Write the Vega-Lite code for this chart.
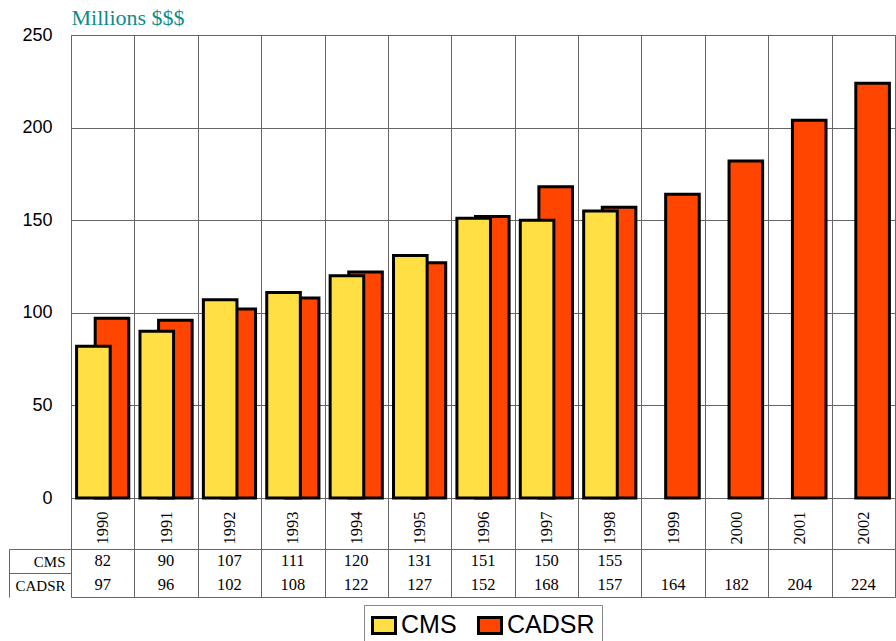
{
  "$schema": "https://vega.github.io/schema/vega-lite/v6.json",
  "autosize": {"type": "pad"},
  "padding": {"left": 8, "top": 5, "right": 0, "bottom": 0},
  "background": "white",
  "spacing": 51,
  "bounds": "flush",
  "config": {"view": {"stroke": "#666666"}},
  "resolve": {"scale": {"x": "independent", "y": "independent", "color": "shared"}, "legend": {"color": "shared"}},
  "data": {
    "values": [
      {"year": "1990", "series": "CMS", "value": 82},
      {"year": "1991", "series": "CMS", "value": 90},
      {"year": "1992", "series": "CMS", "value": 107},
      {"year": "1993", "series": "CMS", "value": 111},
      {"year": "1994", "series": "CMS", "value": 120},
      {"year": "1995", "series": "CMS", "value": 131},
      {"year": "1996", "series": "CMS", "value": 151},
      {"year": "1997", "series": "CMS", "value": 150},
      {"year": "1998", "series": "CMS", "value": 155},
      {"year": "1990", "series": "CADSR", "value": 97},
      {"year": "1991", "series": "CADSR", "value": 96},
      {"year": "1992", "series": "CADSR", "value": 102},
      {"year": "1993", "series": "CADSR", "value": 108},
      {"year": "1994", "series": "CADSR", "value": 122},
      {"year": "1995", "series": "CADSR", "value": 127},
      {"year": "1996", "series": "CADSR", "value": 152},
      {"year": "1997", "series": "CADSR", "value": 168},
      {"year": "1998", "series": "CADSR", "value": 157},
      {"year": "1999", "series": "CADSR", "value": 164},
      {"year": "2000", "series": "CADSR", "value": 182},
      {"year": "2001", "series": "CADSR", "value": 204},
      {"year": "2002", "series": "CADSR", "value": 224}
    ]
  },
  "vconcat": [
    {
      "width": 824,
      "height": 463,
      "encoding": {
        "x": {
          "field": "year", "type": "nominal",
          "scale": {"paddingInner": 0, "paddingOuter": 0},
          "axis": {
            "title": null, "orient": "bottom",
            "domain": true, "domainColor": "#666666",
            "ticks": true, "tickBand": "extent", "tickSize": 51, "tickColor": "#666666",
            "grid": true, "gridColor": "#666666", "gridOpacity": 1,
            "labelAngle": 270, "labelAlign": "right", "labelBaseline": "middle",
            "labelPadding": -38, "labelFont": "Liberation Serif", "labelFontSize": 16.5,
            "labelColor": "black", "labelOverlap": false
          }
        },
        "y": {
          "field": "value", "type": "quantitative",
          "scale": {"domain": [0, 250], "nice": false},
          "axis": {
            "title": "Millions $$$", "titleAngle": 0, "titleAlign": "left",
            "titleBaseline": "alphabetic", "titleX": 0, "titleY": -11,
            "titleFont": "Liberation Serif", "titleFontSize": 22, "titleFontWeight": "normal",
            "titleColor": "#0E8C88",
            "values": [0, 50, 100, 150, 200, 250],
            "domain": true, "domainColor": "#666666",
            "ticks": false, "labelPadding": 19,
            "labelFont": "Liberation Sans", "labelFontSize": 18, "labelColor": "black",
            "grid": true, "gridColor": "#666666", "gridOpacity": 1
          }
        },
        "color": {
          "field": "series", "type": "nominal",
          "scale": {"domain": ["CMS", "CADSR"], "range": ["#FFDF44", "#FF4500"]},
          "legend": {
            "title": null, "orient": "none", "legendX": 293, "legendY": 570,
            "direction": "horizontal",
            "symbolType": "M-1,-0.7H1V0.7H-1Z", "symbolSize": 529,
            "symbolStrokeColor": "black", "symbolStrokeWidth": 3, "symbolOpacity": 1,
            "labelFont": "Liberation Sans", "labelFontSize": 25, "labelColor": "black",
            "labelOffset": 4, "columnPadding": 15, "padding": 7,
            "strokeColor": "#888888"
          }
        }
      },
      "layer": [
        {
          "transform": [{"filter": "datum.series === 'CADSR'"}],
          "mark": {"type": "bar", "width": {"band": 0.53}, "xOffset": 9.3, "stroke": "black", "strokeWidth": 3, "opacity": 1}
        },
        {
          "transform": [{"filter": "datum.series === 'CMS'"}],
          "mark": {"type": "bar", "width": {"band": 0.53}, "xOffset": -9.3, "stroke": "black", "strokeWidth": 3, "opacity": 1}
        }
      ]
    },
    {
      "width": 824,
      "height": 48,
      "mark": {"type": "text", "font": "Liberation Serif", "fontSize": 16.5, "fill": "black"},
      "encoding": {
        "x": {
          "field": "year", "type": "nominal",
          "scale": {"paddingInner": 0, "paddingOuter": 0},
          "axis": {
            "title": null, "domain": false, "ticks": false, "labels": false,
            "grid": true, "gridColor": "#666666", "gridOpacity": 1, "tickBand": "extent"
          }
        },
        "y": {
          "field": "series", "type": "nominal",
          "scale": {"domain": ["CMS", "CADSR"], "paddingInner": 0, "paddingOuter": 0},
          "axis": {
            "title": null, "orient": "left", "offset": 62,
            "domain": true, "domainColor": "#666666",
            "ticks": true, "tickBand": "extent", "tickSize": -62, "tickColor": "#666666",
            "tickOpacity": {"condition": {"test": "datum.value === 'CADSR'", "value": 0}, "value": 1},
            "labelFont": "Liberation Serif", "labelFontSize": 15, "labelColor": "black",
            "labelPadding": 6, "grid": false
          }
        },
        "text": {"field": "value", "type": "quantitative"}
      }
    }
  ]
}
